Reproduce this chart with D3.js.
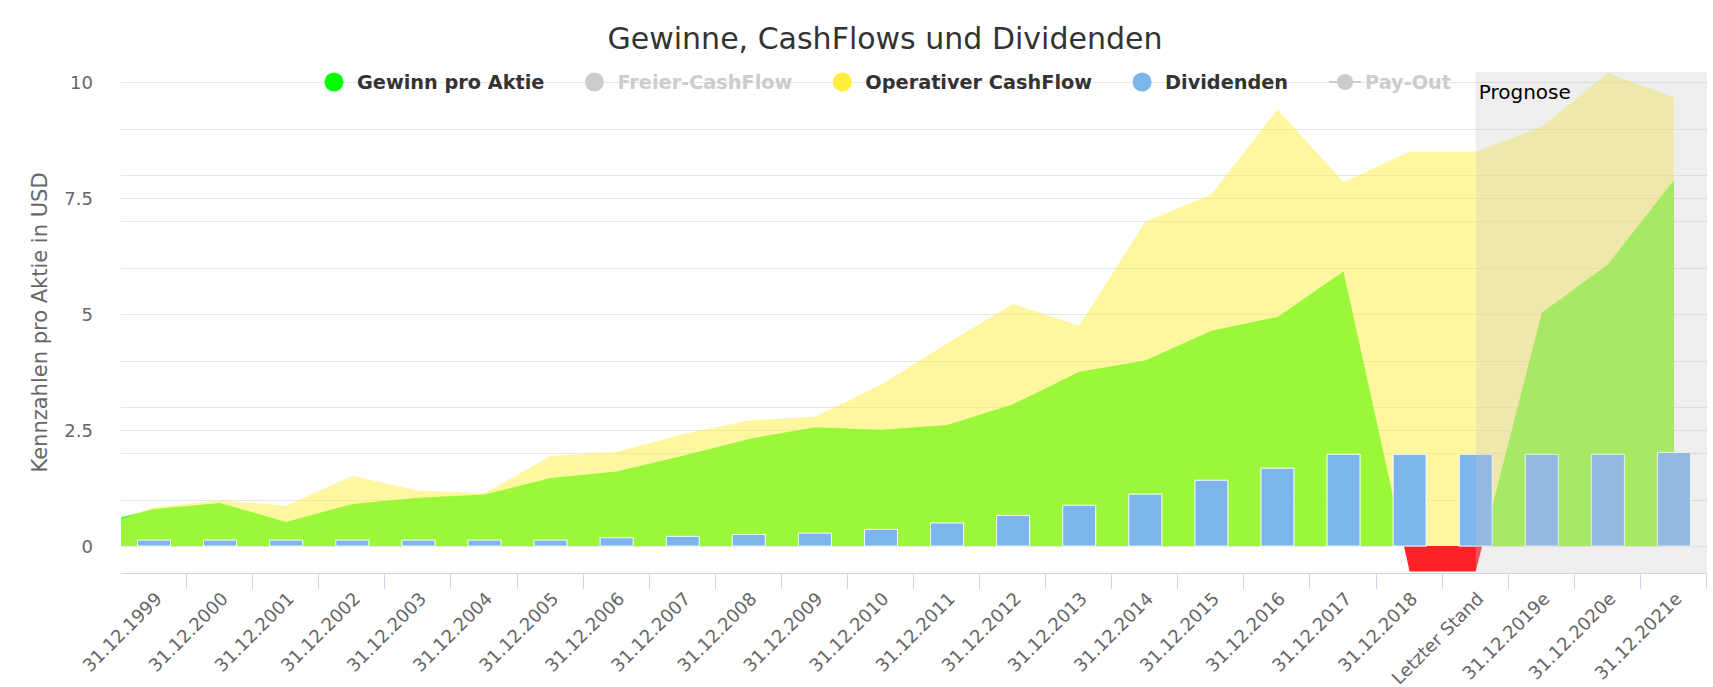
<!DOCTYPE html>
<html><head><meta charset="utf-8">
<script src="https://cdn.jsdelivr.net/npm/d3@7"></script>
<style>body{margin:0;background:#fff}svg{display:block}text{font-family:"DejaVu Sans",sans-serif}</style>
</head><body><svg id="c" width="1713" height="687"></svg>
<script>
// ---------- data ----------
const categories = ["31.12.1999","31.12.2000","31.12.2001","31.12.2002","31.12.2003","31.12.2004","31.12.2005","31.12.2006","31.12.2007","31.12.2008","31.12.2009","31.12.2010","31.12.2011","31.12.2012","31.12.2013","31.12.2014","31.12.2015","31.12.2016","31.12.2017","31.12.2018","Letzter Stand","31.12.2019e","31.12.2020e","31.12.2021e"];
const gewinnProAktie = [0.80,0.93,0.52,0.91,1.04,1.11,1.47,1.61,1.95,2.31,2.56,2.51,2.61,3.06,3.76,4.00,4.64,4.94,5.92,-0.55,-0.55,5.03,6.07,7.89];
const operativerCashFlow = [0.84,0.99,0.87,1.51,1.20,1.14,1.94,2.03,2.41,2.71,2.79,3.48,4.37,5.22,4.75,6.99,7.58,9.41,7.85,8.50,8.50,9.04,10.20,9.67];
const dividenden = [0.13,0.13,0.13,0.13,0.13,0.13,0.13,0.18,0.21,0.25,0.28,0.36,0.50,0.66,0.88,1.12,1.42,1.68,1.98,1.98,1.98,1.98,1.98,2.02];
// values of the year before the first category (area runs in from the left edge)
const gewinnVorjahr = 0.44;
const cashflowVorjahr = 0.32;
const yTicks = [0, 2.5, 5, 7.5, 10];
const yGridExtra = [1, 2, 3, 4, 6, 7, 8, 9];
const prognoseStart = "Letzter Stand";
const legendNames = ["Gewinn pro Aktie","Freier-CashFlow","Operativer CashFlow","Dividenden","Pay-Out"];
const legendColors = ["#00ff00","#cccccc","#ffef3c","#7cb5ec","#cccccc"];
const legendVisible = [true,false,true,true,false];
const legendSymbol = ["circle","circle","circle","circle","line"];

// ---------- layout ----------
const svg = d3.select("#c");
const L = 121, R = 1707, T = 72, B = 573;
const x = d3.scaleBand().domain(categories).range([L, R]).padding(0);
const step = x.step();
const cx = c => x(c) + x.bandwidth() / 2;
const y = d3.scaleLinear().domain([-0.58, 10.22]).range([B, T]);

const defs = svg.append("defs");
defs.append("clipPath").attr("id","plot").append("rect").attr("x",L).attr("y",T).attr("width",R-L).attr("height",B-T);
defs.append("clipPath").attr("id","pos").append("rect").attr("x",L).attr("y",T).attr("width",R-L).attr("height",y(0)-T);
defs.append("clipPath").attr("id","neg").append("rect").attr("x",L).attr("y",y(0)).attr("width",R-L).attr("height",B-y(0));

// gridlines
const grid = svg.append("g");
yTicks.concat(yGridExtra).forEach(v => {
  grid.append("line").attr("x1",L).attr("x2",R).attr("y1",Math.round(y(v))+0.5).attr("y2",Math.round(y(v))+0.5)
    .attr("stroke","#e6e6e6").attr("stroke-width",1);
});

// areas
function pts(prev, arr){
  const p = [{px: cx(categories[0]) - step, v: prev}];
  arr.forEach((v,i)=>p.push({px: cx(categories[i]), v}));
  return p;
}
const area = d3.area().x(d=>d.px).y0(y(0)).y1(d=>y(d.v));
const plotG = svg.append("g").attr("clip-path","url(#plot)");
const gPts = pts(gewinnVorjahr, gewinnProAktie);
plotG.append("g").attr("clip-path","url(#pos)").append("path").attr("d",area(gPts)).attr("fill","rgba(0,255,0,0.75)");
plotG.append("g").attr("clip-path","url(#neg)").append("path").attr("d",area(gPts)).attr("fill","#ff2028");
plotG.append("path").attr("d",area(pts(cashflowVorjahr, operativerCashFlow))).attr("fill","rgba(255,238,51,0.47)");

// bars
const bw = step * 0.5;
plotG.selectAll("rect.bar").data(dividenden).join("rect").attr("class","bar")
  .attr("x",(d,i)=>cx(categories[i]) - bw/2)
  .attr("y",d=>y(d)).attr("width",bw).attr("height",d=>y(0)-y(d))
  .attr("fill","#7cb5ec").attr("stroke","#fff").attr("stroke-width",1);

// prognose band
const px0 = cx(prognoseStart);
svg.append("rect").attr("x",px0).attr("y",T).attr("width",R-px0).attr("height",B-T).attr("fill","rgba(200,200,200,0.3)");
svg.append("text").attr("x",px0+3).attr("y",99).attr("font-size",20).attr("fill","#000").text("Prognose");

// x axis
const xa = svg.append("g");
xa.append("line").attr("x1",L).attr("x2",R).attr("y1",B+0.5).attr("y2",B+0.5).attr("stroke","#ccd6eb");
categories.forEach((c,i)=>{
  const tx = Math.round(x(c) + step) - 0.5;
  xa.append("line").attr("x1",tx).attr("x2",tx).attr("y1",B).attr("y2",B+16).attr("stroke","#ccd6eb");
  xa.append("text").attr("transform",`translate(${cx(c)+9},600) rotate(-45)`).attr("text-anchor","end")
    .attr("font-size",18).attr("fill","#666").text(c);
});

// y axis labels
yTicks.forEach(v=>{
  svg.append("text").attr("x",93).attr("y",y(v)+6.5).attr("text-anchor","end").attr("font-size",18).attr("fill","#666").text(String(v));
});
svg.append("text").attr("transform",`translate(47,${(T+B)/2}) rotate(-90)`).attr("text-anchor","middle")
  .attr("font-size",21).attr("fill","#666").text("Kennzahlen pro Aktie in USD");

// title
svg.append("text").attr("x",885).attr("y",49).attr("text-anchor","middle").attr("font-size",30).attr("fill","#333")
  .text("Gewinne, CashFlows und Dividenden");

// legend
let sc = 334;
const ly = 82;
legendNames.forEach((n,i)=>{
  const g = svg.append("g");
  const col = legendColors[i];
  let tx;
  if (legendSymbol[i] === "circle") {
    g.append("circle").attr("cx",sc).attr("cy",ly).attr("r",9.5).attr("fill",col);
    tx = sc + 23;
  } else {
    g.append("line").attr("x1",sc-16).attr("x2",sc+16).attr("y1",ly).attr("y2",ly).attr("stroke",col).attr("stroke-width",2);
    g.append("circle").attr("cx",sc).attr("cy",ly).attr("r",8).attr("fill",col);
    tx = sc + 20;
  }
  const t = g.append("text").attr("x",tx).attr("y",ly+7).attr("font-size",19.3).attr("font-weight","bold")
    .attr("fill", legendVisible[i] ? "#333" : "#cccccc").text(n);
  const w = t.node().getComputedTextLength();
  const nextLine = legendSymbol[i+1] === "line";
  sc = tx + w + (nextLine ? 57 : 50);
});
</script></body></html>
